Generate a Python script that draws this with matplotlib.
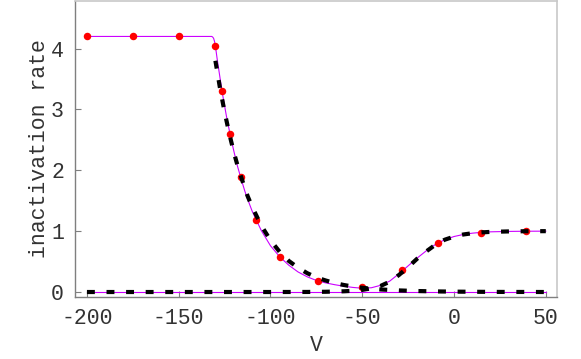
import matplotlib
matplotlib.use("Agg")
import matplotlib.pyplot as plt

plt.rcParams['font.family'] = ['Liberation Mono', 'DejaVu Sans Mono']
plt.rcParams['axes.unicode_minus'] = False

# measured points (red dots)
dot_v = [-200, -175, -150, -130, -126.6, -122.1, -116.2, -107.9, -94.8, -74.3, -50, -28.3, -8.9, 14.7, 39.1]
dot_rate = [4.20, 4.20, 4.20, 4.04, 3.31, 2.60, 1.885, 1.19, 0.58, 0.185, 0.087, 0.36, 0.80, 0.97, 1.0]

# fitted total curve (magenta)
fit_v = [-200, -140, -133, -132, -131.5, -131, -130.5, -130, -129, -128, -127, -126, -125, -124,
         -122, -120, -118, -116, -114, -112, -110, -105, -100, -95, -90, -85, -80, -75,
         -70, -65, -60, -55, -50, -45, -40, -35, -30, -25, -20, -15, -10, -5, 0, 5, 10,
         15, 20, 30, 40, 50]
fit_rate = [4.20, 4.20, 4.20, 4.20, 4.19, 4.17, 4.12, 4.04, 3.82, 3.62, 3.42, 3.23, 3.06, 2.89,
            2.59, 2.32, 2.07, 1.86, 1.66, 1.49, 1.33, 1.01, 0.76, 0.58, 0.44, 0.33, 0.25, 0.19,
            0.15, 0.12, 0.095, 0.075, 0.062, 0.07, 0.11, 0.18, 0.30, 0.43, 0.56, 0.68, 0.785,
            0.86, 0.912, 0.945, 0.967, 0.981, 0.989, 0.996, 0.999, 1.0]

# baseline (magenta)
base_v = [-200, 50]
base_rate = [0.0, 0.0]

# component 1: decaying (black dashed)
dec_v = [-130, -127.5, -125, -122.5, -120, -117.5, -115, -112.5, -110, -105, -100, -95, -90,
         -85, -80, -75, -70, -65, -60, -55, -50, -45, -40, -30, -20, -10, 0, 10, 20, 30, 40, 50]
dec_rate = [3.80, 3.35, 2.96, 2.61, 2.30, 2.03, 1.80, 1.58, 1.40, 1.09, 0.85, 0.66, 0.51,
            0.40, 0.31, 0.24, 0.19, 0.147, 0.115, 0.089, 0.070, 0.054, 0.042, 0.026, 0.016,
            0.010, 0.006, 0.004, 0.002, 0.001, 0.001, 0.0]

# component 2: rising sigmoid (black dashed)
sig_v = [-200, -100, -80, -70, -60, -55, -50, -45, -40, -35, -30, -25, -20, -15, -10, -5, 0,
         5, 10, 15, 20, 30, 40, 50]
sig_rate = [0.0, 0.0, 0.001, 0.004, 0.012, 0.02, 0.035, 0.06, 0.10, 0.17, 0.28, 0.41, 0.55,
            0.67, 0.78, 0.86, 0.91, 0.945, 0.966, 0.98, 0.988, 0.996, 0.999, 1.0]

xticks = [-200, -150, -100, -50, 0, 50]
yticks = [0, 1, 2, 3, 4]

fig = plt.figure(figsize=(5.81, 3.59), dpi=100)
ax = fig.add_axes([75/581, 1 - 297/359, (557 - 75)/581, 297/359 - 0.002])

mag = '#CC00FF'
ax.plot(base_v, base_rate, color=mag, lw=0.8, zorder=2)
ax.plot(fit_v, fit_rate, color=mag, lw=0.8, zorder=2)
ax.plot(dot_v, dot_rate, 'o', color='#FF0000', ms=5.4, mec='none', zorder=3)
for v, r in ((dec_v, dec_rate), (sig_v, sig_rate)):
    ln, = ax.plot(v, r, color='black', lw=3.0, zorder=4, solid_capstyle='butt')
    ln.set_dashes([1.9, 2.8])
    ln.set_dash_capstyle('butt')

ax.set_xlim(-206.5, 56.1)
ax.set_ylim(-0.082, 4.787)
ax.set_xticks(xticks)
ax.set_xticklabels([str(t) for t in xticks])
ax.set_yticks(yticks)
ax.set_yticklabels([str(t) for t in yticks])

for s in ('left', 'bottom'):
    ax.spines[s].set_color('#7f7f7f')
    ax.spines[s].set_linewidth(1.0)
for s in ('top', 'right'):
    ax.spines[s].set_color('#c8c8c8')
    ax.spines[s].set_linewidth(1.2)

txt = '#333333'
ax.tick_params(direction='in', length=4, width=0.8, color='#7f7f7f',
               labelsize=15.5, labelcolor=txt, top=False, right=False)
ax.tick_params(axis='x', pad=8)
ax.tick_params(axis='y', pad=8)

ax.set_xlabel('V', fontsize=15.5, color=txt, labelpad=4)
ax.set_ylabel('inactivation rate', fontsize=15.5, color=txt, labelpad=1)

fig.savefig('out.png', dpi=100)
